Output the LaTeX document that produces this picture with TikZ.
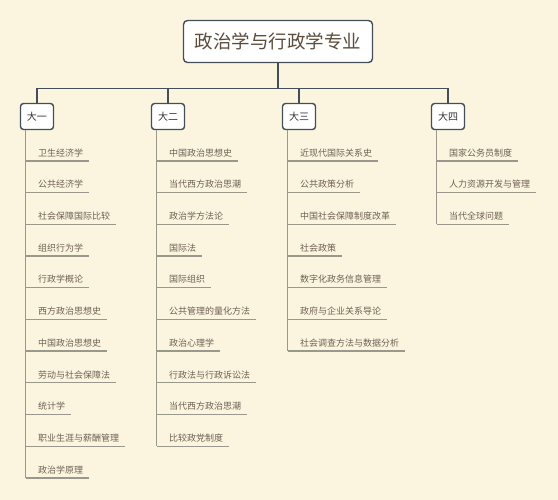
\documentclass[tikz,border=0pt]{standalone}
\usepackage{fontspec}
\newfontfamily\cjk{Noto Sans CJK SC}
\usetikzlibrary{positioning}

\definecolor{paper}{HTML}{FBF5E0}
\definecolor{edge}{HTML}{434E58}
\definecolor{roottext}{HTML}{5C4B3B}
\definecolor{yeartext}{HTML}{333333}
\definecolor{leaftext}{HTML}{6F6052}
\definecolor{rulegray}{HTML}{9A988C}

\begin{document}
\begin{tikzpicture}[
  x=1pt, y=-1pt,
  topic/.style={rectangle, rounded corners=4pt, draw=edge, line width=1.4pt, fill=white, inner sep=0pt},
  root/.style={topic, minimum width=189pt, minimum height=42pt,
               font=\cjk\fontsize{18.5}{20}\selectfont, text=roottext},
  year/.style={topic, rounded corners=3pt, minimum width=33pt, minimum height=26pt,
               font=\cjk\fontsize{10}{12}\selectfont, text=yeartext},
  leaf/.style={font=\cjk\fontsize{9}{11}\selectfont, text=leaftext,
               inner xsep=6pt, inner ysep=4.5pt, text depth=0pt},
  first/.style={below right=30.7pt and 6pt of #1, anchor=south west},
  under/.style={below=31.7pt of #1.south west, anchor=south west},
  link/.style={draw=edge, line width=1.4pt},
  rule/.style={draw=rulegray, line width=1.3pt},
]
\useasboundingbox[fill=paper] (0,0) rectangle (558,500);

% ------------------------------------------------------------------ top level
\node[root] (root) at (278,41.5) {政治学与行政学专业};
\node[year] (y1) at (37,116.5) {大一};
\node[year] (y2) at (168,116.5) {大二};
\node[year] (y3) at (299,116.5) {大三};
\node[year] (y4) at (448,116.5) {大四};

\coordinate (bus) at (0,88.3);
\draw[link] (root.south) -- (root.south |- bus);
\draw[link] (y1.north) -- (y1.north |- bus) -- (y4.north |- bus) -- (y4.north);
\draw[link] (y2.north) -- (y2.north |- bus);
\draw[link] (y3.north) -- (y3.north |- bus);

% trunk start under each year box
\coordinate (t1) at ([xshift=6pt]y1.south west);
\coordinate (t2) at ([xshift=6pt]y2.south west);
\coordinate (t3) at ([xshift=6pt]y3.south west);
\coordinate (t4) at ([xshift=6pt]y4.south west);

% ---------------------------------------------------------------------- 大一
\node[leaf, first=t1] (a1) {卫生经济学};
\node[leaf, under=a1] (a2) {公共经济学};
\node[leaf, under=a2] (a3) {社会保障国际比较};
\node[leaf, under=a3] (a4) {组织行为学};
\node[leaf, under=a4] (a5) {行政学概论};
\node[leaf, under=a5] (a6) {西方政治思想史};
\node[leaf, under=a6] (a7) {中国政治思想史};
\node[leaf, under=a7] (a8) {劳动与社会保障法};
\node[leaf, under=a8] (a9) {统计学};
\node[leaf, under=a9] (a10) {职业生涯与薪酬管理};
\node[leaf, under=a10] (a11) {政治学原理};

% ---------------------------------------------------------------------- 大二
\node[leaf, first=t2] (b1) {中国政治思想史};
\node[leaf, under=b1] (b2) {当代西方政治思潮};
\node[leaf, under=b2] (b3) {政治学方法论};
\node[leaf, under=b3] (b4) {国际法};
\node[leaf, under=b4] (b5) {国际组织};
\node[leaf, under=b5] (b6) {公共管理的量化方法};
\node[leaf, under=b6] (b7) {政治心理学};
\node[leaf, under=b7] (b8) {行政法与行政诉讼法};
\node[leaf, under=b8] (b9) {当代西方政治思潮};
\node[leaf, under=b9] (b10) {比较政党制度};

% ---------------------------------------------------------------------- 大三
\node[leaf, first=t3] (c1) {近现代国际关系史};
\node[leaf, under=c1] (c2) {公共政策分析};
\node[leaf, under=c2] (c3) {中国社会保障制度改革};
\node[leaf, under=c3] (c4) {社会政策};
\node[leaf, under=c4] (c5) {数字化政务信息管理};
\node[leaf, under=c5] (c6) {政府与企业关系导论};
\node[leaf, under=c6] (c7) {社会调查方法与数据分析};

% ---------------------------------------------------------------------- 大四
\node[leaf, first=t4] (d1) {国家公务员制度};
\node[leaf, under=d1] (d2) {人力资源开发与管理};
\node[leaf, under=d2] (d3) {当代全球问题};

% trunks and underlines
\draw[rule] (t1) -- (t1 |- a11.south);
\draw[rule] (t2) -- (t2 |- b10.south);
\draw[rule] (t3) -- (t3 |- c7.south);
\draw[rule] (t4) -- (t4 |- d3.south);
\foreach \i in {1,...,11} \draw[rule] (t1 |- a\i.south) -- (a\i.south east);
\foreach \i in {1,...,10} \draw[rule] (t2 |- b\i.south) -- (b\i.south east);
\foreach \i in {1,...,7} \draw[rule] (t3 |- c\i.south) -- (c\i.south east);
\foreach \i in {1,...,3} \draw[rule] (t4 |- d\i.south) -- (d\i.south east);
\end{tikzpicture}
\end{document}
